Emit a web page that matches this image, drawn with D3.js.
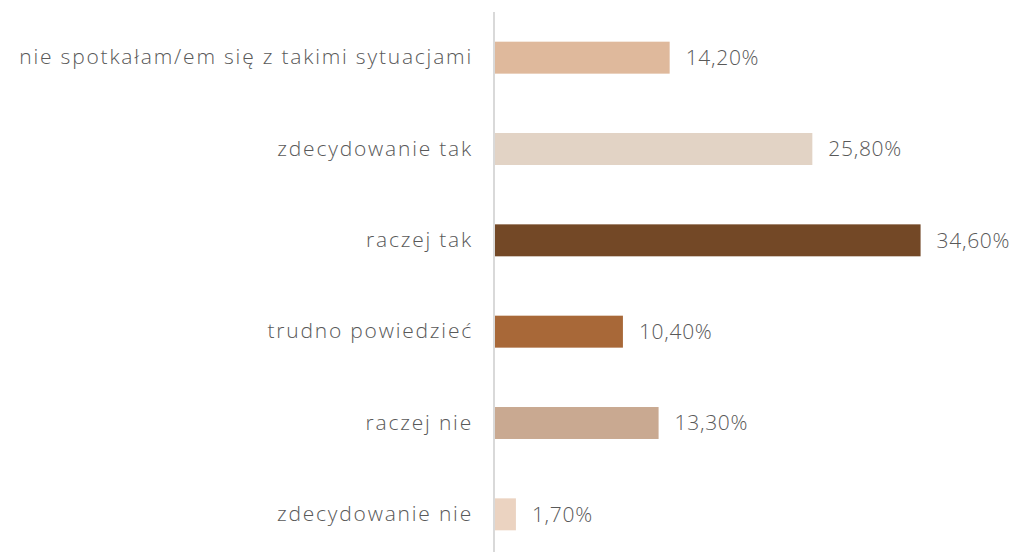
<!DOCTYPE html>
<html>
<head>
<meta charset="utf-8">
<script src="https://cdn.jsdelivr.net/npm/d3@7"></script>
<style>
    body { margin: 0; background: #fff; }
    text { font-family: "Open Sans", Lato, sans-serif; fill: #595959; }
</style>
</head>
<body>
<div id="chart"></div>
<script>
const categories = [
    'nie spotkałam/em się z takimi sytuacjami',
    'zdecydowanie tak',
    'raczej tak',
    'trudno powiedzieć',
    'raczej nie',
    'zdecydowanie nie'
];
const values = [14.2, 25.8, 34.6, 10.4, 13.3, 1.7];
const colors = ['#dfb99c', '#e2d3c5', '#734826', '#a86838', '#c9a991', '#ebd3c1'];

const width = 1019;
const height = 552;
const axisX = 495;
const fontFamily = '"Open Sans", Lato, sans-serif';

const svg = d3.select('#chart')
    .append('svg')
    .attr('width', width)
    .attr('height', height);

const x = d3.scaleLinear()
    .domain([0, 40])
    .range([axisX, axisX + 40 * 12.3]);

const y = d3.scaleBand()
    .domain(categories)
    .range([12, 560])
    .paddingInner(0.65)
    .paddingOuter(0.325);

const data = categories.map((c, i) => ({ cat: c, value: values[i], color: colors[i] }));

// bars
svg.append('g')
    .selectAll('rect')
    .data(data)
    .enter()
    .append('rect')
    .attr('x', x(0))
    .attr('y', d => y(d.cat))
    .attr('width', d => x(d.value) - x(0))
    .attr('height', y.bandwidth())
    .attr('fill', d => d.color);

// value labels
svg.append('g')
    .selectAll('text')
    .data(data)
    .enter()
    .append('text')
    .attr('x', d => x(d.value) + 16)
    .attr('y', d => y(d.cat) + y.bandwidth() / 2)
    .attr('dy', '0.35em')
    .attr('font-size', 21)
    .style('font-weight', 300)
    .style('letter-spacing', '0.7px')
    .text(d => d.value.toFixed(2).replace('.', ',') + '%');

// category axis
const yAxis = d3.axisLeft(y).tickSize(0).tickPadding(22);
const gAxis = svg.append('g')
    .attr('transform', `translate(${axisX},0)`)
    .call(yAxis);
gAxis.select('.domain').remove();
gAxis.selectAll('text')
    .attr('font-size', 21)
    .attr('fill', '#595959')
    .style('font-family', fontFamily)
    .style('font-weight', 300)
    .style('letter-spacing', '1.8px');

svg.append('line')
    .attr('x1', axisX - 1)
    .attr('x2', axisX - 1)
    .attr('y1', 12)
    .attr('y2', height)
    .attr('stroke', '#d9d9d9')
    .attr('stroke-width', 2);
</script>
</body>
</html>
